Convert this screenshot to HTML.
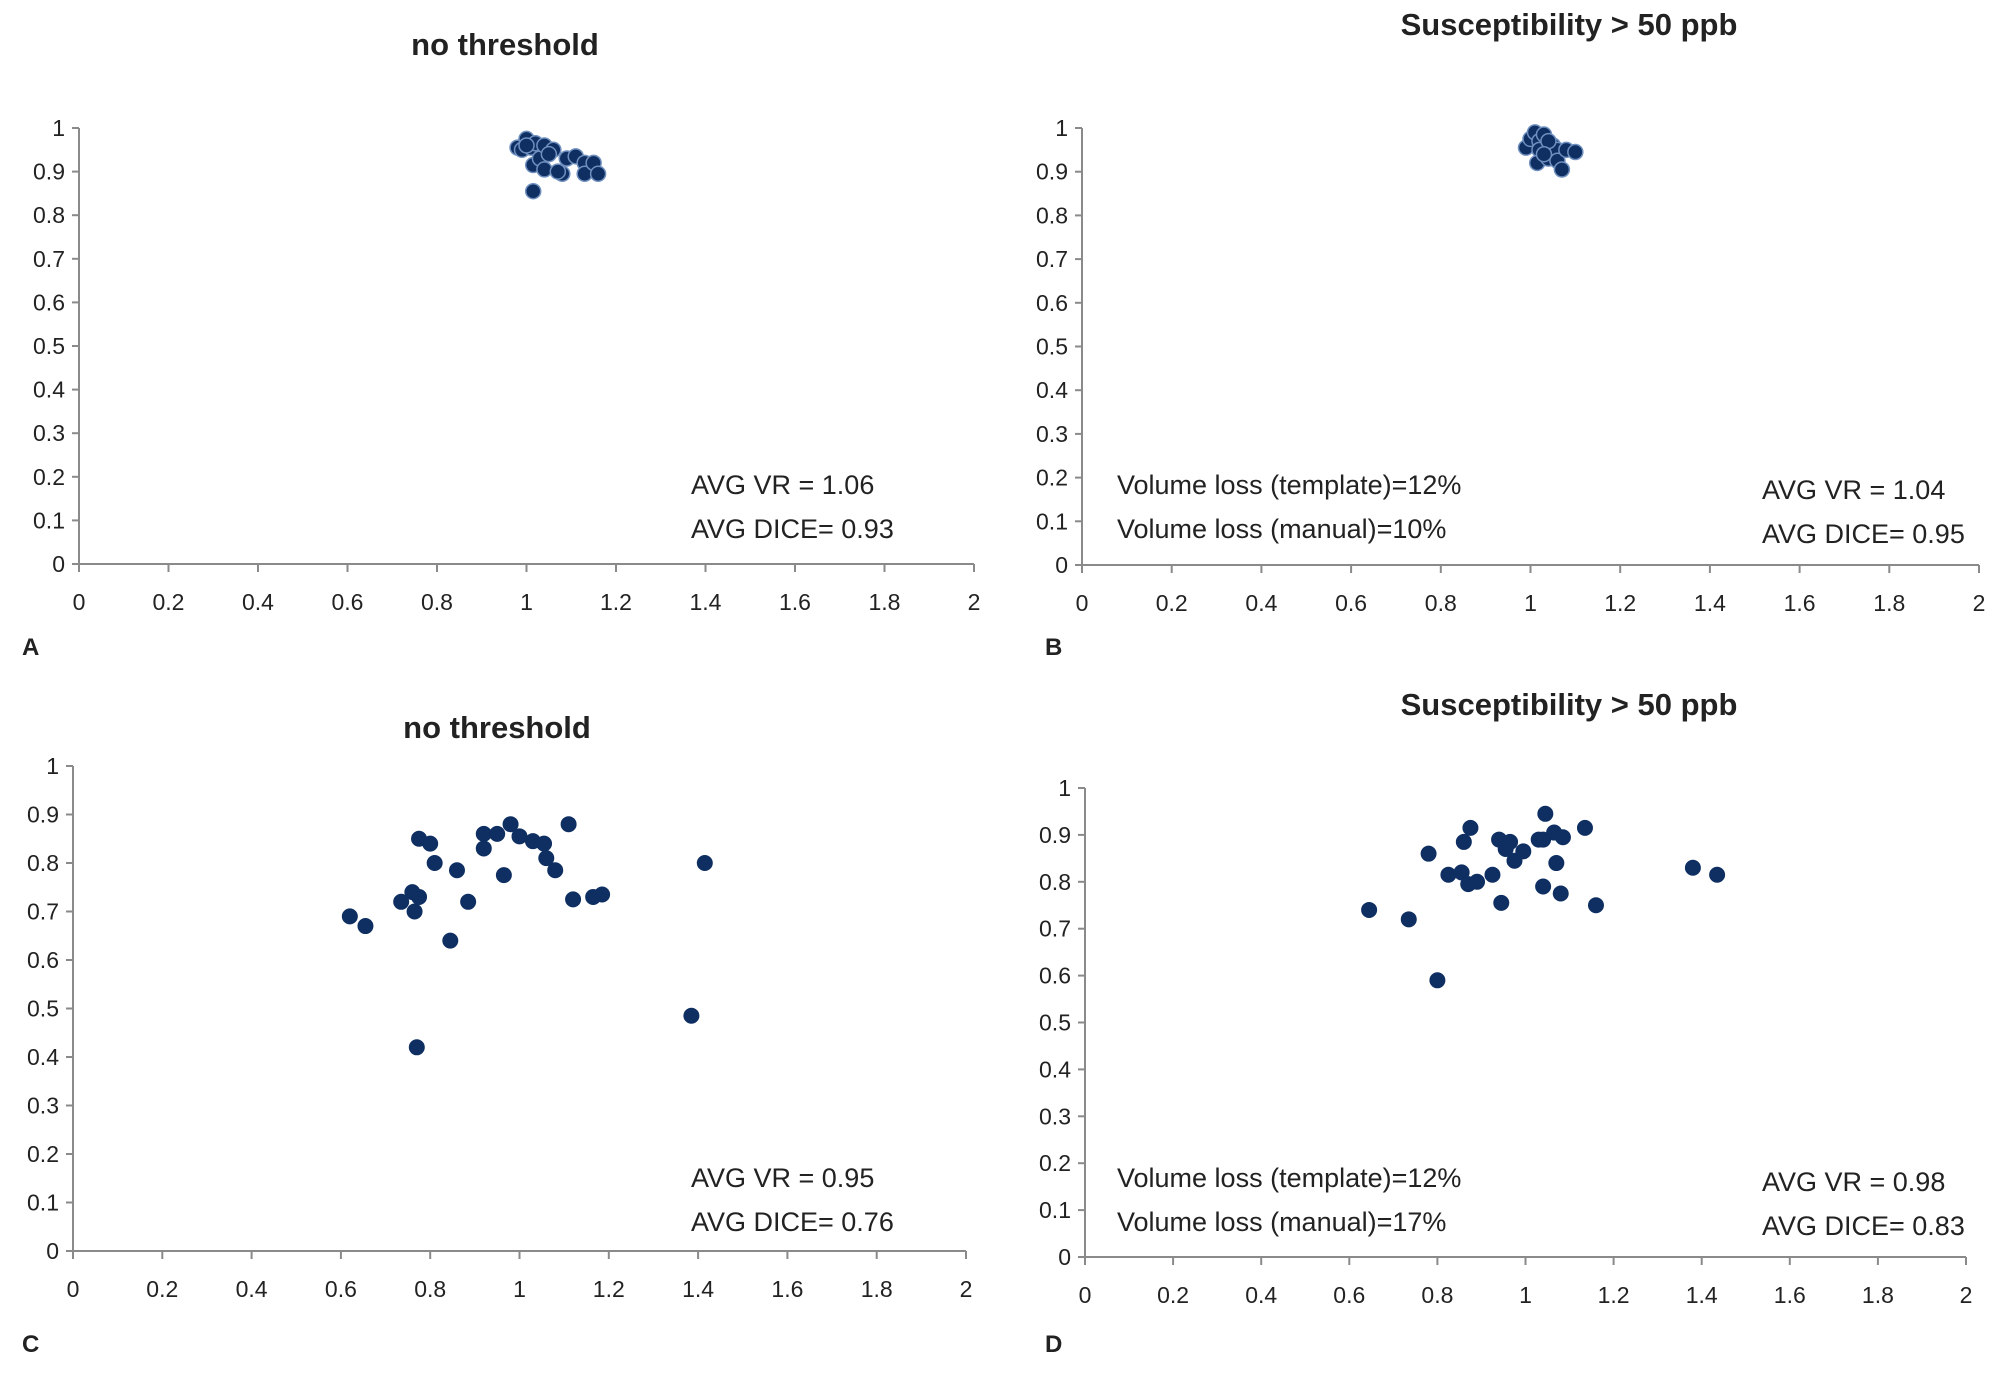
<!DOCTYPE html>
<html><head><meta charset="utf-8"><style>
body{margin:0;background:#fff;width:1999px;height:1385px;overflow:hidden}
svg text{font-family:"Liberation Sans",sans-serif;fill:#222}
</style></head><body>
<svg id="fig" width="1999" height="1385"></svg>
<script>
const xTicks=["0","0.2","0.4","0.6","0.8","1","1.2","1.4","1.6","1.8","2"];
const yTicks=["0","0.1","0.2","0.3","0.4","0.5","0.6","0.7","0.8","0.9","1"];
const aX=[0.98,0.99,1.0,1.01,1.02,1.015,1.03,1.04,1.04,1.06,1.05,1.08,1.09,1.11,1.13,1.13,1.15,1.16,1.015,1.0,1.07];
const aY=[0.955,0.95,0.975,0.955,0.965,0.915,0.93,0.96,0.905,0.95,0.94,0.895,0.93,0.935,0.92,0.895,0.92,0.895,0.855,0.96,0.9];
const bX=[0.99,1.0,1.01,1.02,1.03,1.02,1.015,1.04,1.05,1.06,1.06,1.07,1.08,1.1,1.04,1.03];
const bY=[0.955,0.975,0.99,0.97,0.985,0.95,0.92,0.93,0.96,0.95,0.925,0.905,0.95,0.945,0.97,0.94];
const cX=[0.62,0.655,0.735,0.76,0.765,0.775,0.775,0.80,0.81,0.77,0.845,0.86,0.885,0.92,0.92,0.95,0.965,0.98,1.0,1.03,1.055,1.06,1.08,1.11,1.12,1.165,1.185,1.385,1.415];
const cY=[0.69,0.67,0.72,0.74,0.70,0.73,0.85,0.84,0.80,0.42,0.64,0.785,0.72,0.86,0.83,0.86,0.775,0.88,0.855,0.845,0.84,0.81,0.785,0.88,0.725,0.73,0.735,0.485,0.80];
const dX=[0.645,0.735,0.78,0.80,0.825,0.855,0.86,0.875,0.87,0.89,0.925,0.94,0.945,0.955,0.965,0.975,0.995,1.03,1.04,1.045,1.04,1.065,1.07,1.08,1.085,1.135,1.16,1.38,1.435];
const dY=[0.74,0.72,0.86,0.59,0.815,0.82,0.885,0.915,0.795,0.80,0.815,0.89,0.755,0.87,0.885,0.845,0.865,0.89,0.89,0.945,0.79,0.905,0.84,0.775,0.895,0.915,0.75,0.83,0.815];

const NS="http://www.w3.org/2000/svg";
const svg=document.getElementById('fig');
function mk(tag,attrs,parent){const e=document.createElementNS(NS,tag);for(const k in attrs)e.setAttribute(k,attrs[k]);(parent||svg).appendChild(e);return e;}
function txt(s,x,y,size,anchor,weight,parent){const t=mk('text',{x:x,y:y,'font-size':size,'text-anchor':anchor||'start','font-weight':weight||'normal'},parent);t.textContent=s;return t;}

const panels=[
 {id:'a',x0:79,x2:974,y1:128,y0:564,xs:aX,ys:aY,title:'no threshold',tx:505,ty:55,letter:'A',ly:655,
  notes:[[691,494,'AVG VR = 1.06'],[691,538,'AVG DICE= 0.93']],halo:true},
 {id:'b',x0:1082,x2:1979,y1:128,y0:565,xs:bX,ys:bY,title:'Susceptibility > 50 ppb',tx:1569,ty:35,letter:'B',ly:655,
  notes:[[1117,494,'Volume loss (template)=12%'],[1117,538,'Volume loss (manual)=10%'],[1762,499,'AVG VR = 1.04'],[1762,543,'AVG DICE= 0.95']],halo:true},
 {id:'c',x0:73,x2:966,y1:766,y0:1251,xs:cX,ys:cY,title:'no threshold',tx:497,ty:738,letter:'C',ly:1352,
  notes:[[691,1187,'AVG VR = 0.95'],[691,1231,'AVG DICE= 0.76']]},
 {id:'d',x0:1085,x2:1966,y1:788,y0:1257,xs:dX,ys:dY,title:'Susceptibility > 50 ppb',tx:1569,ty:715,letter:'D',ly:1352,
  notes:[[1117,1187,'Volume loss (template)=12%'],[1117,1231,'Volume loss (manual)=17%'],[1762,1191,'AVG VR = 0.98'],[1762,1235,'AVG DICE= 0.83']]}
];

panels.forEach(p=>{
  const g=mk('g',{});
  
  
  const sx=v=>p.x0+(p.x2-p.x0)*v/2;
  const sy=v=>p.y0-(p.y0-p.y1)*v;
  const t=txt(p.title,p.tx,p.ty,31,'middle','bold',g);
  
  
  const l=txt(p.letter,p.id=='a'||p.id=='c'?22:1045,p.ly,24,'start','bold',g);
  
  
  const ya=mk('line',{x1:p.x0,y1:p.y1,x2:p.x0,y2:p.y0,stroke:'#8a8a8a','stroke-width':2},g);
  
  
  const xa=mk('line',{x1:p.x0,y1:p.y0,x2:p.x2,y2:p.y0,stroke:'#8a8a8a','stroke-width':2},g);
  
  
  yTicks.forEach((s,i)=>{
    const y=sy(parseFloat(s));
    mk('line',{x1:p.x0-7,y1:y,x2:p.x0,y2:y,stroke:'#8a8a8a','stroke-width':2},g);
    const tl=txt(s,p.x0-14,y+8,23,'end','normal',g);
    
    
  });
  xTicks.forEach((s,i)=>{
    const x=sx(parseFloat(s));
    mk('line',{x1:x,y1:p.y0,x2:x,y2:p.y0+8,stroke:'#8a8a8a','stroke-width':2},g);
    const tl=txt(s,x,p.y0+46,23,'middle','normal',g);
    
    
  });
  p.xs.forEach((v,i)=>{
    const c=mk('circle',{cx:sx(v),cy:sy(p.ys[i]),r:7.5,fill:'#0f2f62',stroke:p.halo?'#6f8fbf':'#0f2f62','stroke-width':p.halo?1.5:1},g);
    
    
  });
  p.notes.forEach(n=>{
    const a=txt(n[2],n[0],n[1],27,'start','normal',g);
    
    
  });
});
</script>
</body></html>
